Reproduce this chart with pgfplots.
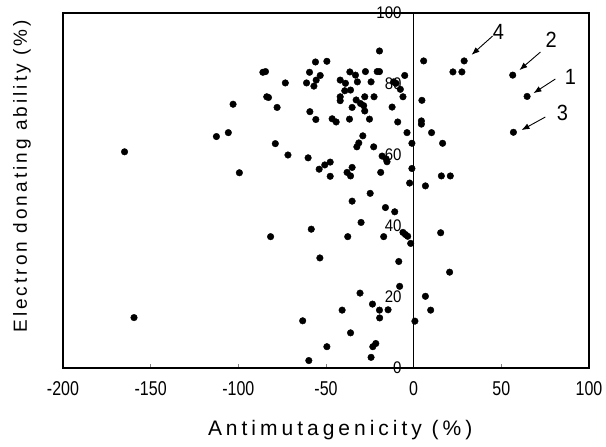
\documentclass[border=0pt]{standalone}
\usepackage{pgfplots}
\pgfplotsset{compat=1.18}
\usepackage{fontspec}
\setmainfont{Liberation Sans}
\newfontfamily\lblx[LetterSpace=19]{Liberation Sans}
\newfontfamily\lbly[LetterSpace=16]{Liberation Sans}
\usetikzlibrary{arrows.meta,calc}
\newcommand{\tl}[1]{\scalebox{1}[1.25]{#1}}
\newcommand{\yl}[1]{\scalebox{1}[1.12]{#1}}

\begin{document}
\begin{tikzpicture}
\begin{axis}[
  scale only axis, width=526bp, height=355bp,
  xmin=-200, xmax=100, ymin=0, ymax=100,
  axis line style={line width=1.2bp},
  xtick={-200,-150,-100,-50,0,50,100},
  xticklabels={\tl{-200},\tl{-150},\tl{-100},\tl{-50},\tl{0},\tl{50},\tl{100}},
  xtick pos=bottom, tick align=inside, major tick length=4bp,
  xtick style={line width=0.8bp},
  xticklabel style={font=\fontsize{16bp}{16bp}\selectfont, yshift=-10bp},
  ytick={0,20,40,60,80,100},
  yticklabels={\yl{0},\yl{20},\yl{40},\yl{60},\yl{80},\yl{100}},
  ytick style={draw=none},
  yticklabel style={font=\fontsize{15bp}{15bp}\selectfont, anchor=east, xshift=342bp},
  extra x ticks={0}, extra x tick labels={},
  extra x tick style={grid=major, major grid style={black, line width=1bp}, tick style={draw=none}},
]
\addplot[only marks, mark=*, mark size=3.3bp, black] coordinates {
(-56,86.2) (-49.5,86.4) (-86,83.3) (-84.5,83.5) (-59.4,83.3) (-53.3,82.4)
(-55.6,81.1) (-73.2,80.3) (-61.1,80.3) (-56.9,79.4) (-41.9,81.1) (-38.9,80.2)
(-39.3,78.1) (-41.9,76.4) (-41.9,75.3) (-83.8,76.4) (-82.8,76.2) (-77.9,73.4)
(-103,74.3) (-59.2,72.2) (-55.8,70.0) (-46.5,70.2) (-44.2,69.3) (-36.6,70.1)
(-105.7,66.3) (-112.5,65.2) (-164.9,60.9) (-78.9,63.2) (-71.7,60.0) (-60.2,59.2)
(-53.9,56.0) (-50.7,57.2) (-47.6,58.0) (-47.6,54.0) (-99.4,55.0) (-38,55.1)
(-19.5,89.3) (5.7,86.5) (28.8,86.5) (22.4,83.4) (27.5,83.4) (56.5,82.5)
(64.7,76.5) (56.9,66.4) (-36.4,83.4) (-33.2,82.5) (-27.5,83.5) (-20.8,83.5)
(-19.5,83.5) (-5.1,82.4) (-32.1,80.6) (-24.3,80.6) (-11.4,80.6) (-10.1,80.2)
(-7.6,78.5) (-6.1,76.4) (-36.0,78.3) (-27.9,76.4) (-22.6,76.4) (-32.8,75.5)
(-30.3,74.5) (-28.5,73.9) (-27.9,72.4) (-35.1,73.4) (-12.3,73.5) (4.7,75.4)
(-25.2,70.1) (-9.1,69.3) (4.4,69.6) (4.4,68.7) (10.2,66.3) (-3.8,66.3)
(-29.0,65.4) (-31.3,63.4) (-32.4,62.3) (-22.8,62.3) (-1.0,63.3) (16.5,63.3)
(-18,59.7) (-15.7,58.9) (-15.2,58.1) (-35.1,56.5) (-36,54.1) (-18.8,55.1)
(-1.0,56.2) (-2.3,52.1) (6.7,51.3) (15.8,54.1) (20.9,54.1) (-24.8,49.2)
(-35.1,47.0) (-16.1,45.2) (-10.8,44.0) (-30,41.0) (-58.4,39.1) (-37.6,37.0)
(-17.1,37.0) (-6.1,38.2) (-4.7,37.6) (-3.4,37.1) (-1.7,35.1) (15.4,38.1)
(-53.5,31.0) (-8.5,30.0) (20.5,27.0) (-8.0,23.0) (-30.6,21.1) (6.7,20.2)
(-23.5,18.0) (-40.8,16.3) (-19.5,16.3) (-14.6,16.4) (-19.4,14.1) (9.7,16.3)
(-63.3,13.3) (0.7,13.2) (-36,9.9) (-49.5,6.0) (-23.3,6.0) (-21.6,6.9)
(-59.8,2.1) (-24.3,3.0) (-81.6,37.0) (-159.5,14.2)
};
\draw[-{Latex[length=8bp,width=6bp]}, line width=0.9bp] (axis cs:45,93.5) -- (axis cs:33,88.2);
\draw[-{Latex[length=8bp,width=6bp]}, line width=0.9bp] (axis cs:72.3,89) -- (axis cs:60.3,83.9);
\draw[-{Latex[length=8bp,width=6bp]}, line width=0.9bp] (axis cs:80.8,81.4) -- (axis cs:68.3,77.4);
\draw[-{Latex[length=8bp,width=6bp]}, line width=0.9bp] (axis cs:75.1,70.7) -- (axis cs:61.5,67);
\node[font=\fontsize{20bp}{20bp}\selectfont] at (axis cs:48.4,94.6) {\scalebox{1}[1.1]{4}};
\node[font=\fontsize{20bp}{20bp}\selectfont] at (axis cs:78.5,92.4) {\scalebox{1}[1.1]{2}};
\node[font=\fontsize{20bp}{20bp}\selectfont] at (axis cs:89.4,82) {\scalebox{1}[1.1]{1}};
\node[font=\fontsize{20bp}{20bp}\selectfont] at (axis cs:84.8,71.8) {\scalebox{1}[1.1]{3}};
\coordinate (ll) at (rel axis cs:0,0);
\coordinate (ur) at (rel axis cs:1,1);
\coordinate (xl) at (rel axis cs:0.527,0);
\coordinate (yl) at (rel axis cs:0,0.54);
\end{axis}
\node[font=\fontsize{21bp}{21bp}\selectfont, anchor=center] at ($(xl)+(0pt,-62bp)$) {\lblx Antimutagenicity (\%)};
\node[font=\fontsize{19bp}{19bp}\selectfont, anchor=center, rotate=90] at ($(yl)+(-41bp,0pt)$) {\lbly Electron donating ability (\%)};
\pgfresetboundingbox
\path ($(ll)+(-63bp,-79bp)$) rectangle ($(ur)+(17bp,13bp)$);
\end{tikzpicture}
\end{document}
